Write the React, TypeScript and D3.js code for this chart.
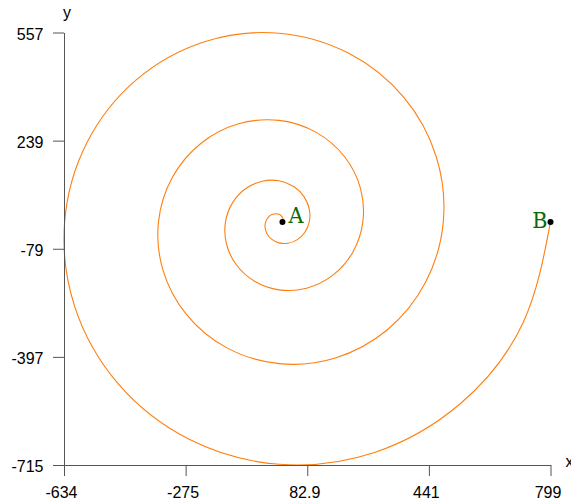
import React, { useEffect, useRef } from "react";
import * as d3 from "d3";

// Spiral points (data units), from A (inner end) to B (outer end)
const spiralX = [
  9.9, 11.5, 10.9, 7.1, 0, -10.0, -21.4, -32.1,
  -39.5, -41.2, -35.3, -21.3, 0, 26.0, 52.8, 75.4,
  88.8, 89.0, 73.7, 43.0, 0, -49.6, -98.1, -136.9,
  -157.9, -155.2, -126.1, -72.3, 0, 80.8, 157.5, 216.7,
  246.7, 239.5, 192.4, 109.1, 0, -119.5, -230.7, -314.7,
  -355.3, -342.1, -272.6, -153.5, 0, 165.8, 318.0, 431.0,
  483.6, 462.9, 366.8, 205.4, 0, -219.6, -419.2, -565.5,
  -631.7, -602.0, -475.0, -264.9, 0, 281.0, 534.3, 718.2,
  799.4,
];
const spiralY = [
  0, 4.8, 10.9, 17.2, 22.2, 24.1, 21.4, 13.3,
  0, -17.1, -35.3, -51.4, -61.7, -62.8, -52.8, -31.2,
  0, 36.9, 73.7, 103.9, 120.9, 119.8, 98.1, 56.7,
  0, -64.3, -126.1, -174.5, -199.9, -195.0, -157.5, -89.8,
  0, 99.2, 192.4, 263.4, 298.6, 288.5, 230.7, 130.4,
  0, -141.7, -272.6, -370.6, -417.0, -400.2, -318.0, -178.5,
  0, 191.7, 366.8, 495.9, 555.2, 530.2, 419.2, 234.2,
  0, -249.3, -475.0, -639.6, -713.1, -678.3, -534.3, -297.5,
  0,
];

const pointNames = ["A", "B"];
const pointX = [9.9, 799.4];
const pointY = [0, 0];

const xDomain = [-633.6, 799.4];
const yDomain = [-715.2, 557.2];
const xTickValues = [-633.6, -275.35, 82.9, 441.15, 799.4];
const xTickLabels = ["-634", "-275", "82.9", "441", "799"];
const yTickValues = [-715.2, -397.1, -79.0, 239.1, 557.2];
const yTickLabels = ["-715", "-397", "-79", "239", "557"];

const W = 571;
const H = 504;

export default function App() {
  const ref = useRef<SVGSVGElement | null>(null);

  useEffect(() => {
    const svg = d3.select(ref.current);
    svg.selectAll("*").remove();

    const x = d3.scaleLinear().domain(xDomain).range([64, 550.5]);
    const y = d3.scaleLinear().domain(yDomain).range([465, 32.5]);

    const axisColor = "#555";
    const font = "'Liberation Sans', Arial, sans-serif";

    // spiral
    const pts: [number, number][] = spiralX.map((v, i) => [v, spiralY[i]]);
    const line = d3
      .line<[number, number]>()
      .x((d) => x(d[0]))
      .y((d) => y(d[1]))
      .curve(d3.curveNatural);
    svg
      .append("path")
      .attr("d", line(pts) as string)
      .attr("fill", "none")
      .attr("stroke", "#ff7f0e")
      .attr("stroke-width", 1.1);

    // x axis
    const gx = svg.append("g").attr("transform", `translate(0,${y(yDomain[0])})`);
    gx.call(
      d3
        .axisBottom(x)
        .tickValues(xTickValues)
        .tickFormat((_d, i) => xTickLabels[i])
        .tickSize(11)
        .tickSizeOuter(0)
    );
    gx.select(".domain").attr("stroke", axisColor);
    gx.selectAll(".tick line").attr("stroke", axisColor);
    gx.selectAll(".tick text")
      .attr("y", 33)
      .attr("dy", null)
      .attr("x", -3)
      .attr("fill", "#000")
      .style("font-size", "16px")
      .style("font-family", font);

    // y axis
    const gy = svg.append("g").attr("transform", `translate(${x(xDomain[0])},0)`);
    gy.call(
      d3
        .axisLeft(y)
        .tickValues(yTickValues)
        .tickFormat((_d, i) => yTickLabels[i])
        .tickSize(11)
        .tickSizeOuter(0)
    );
    gy.select(".domain").attr("stroke", axisColor);
    gy.selectAll(".tick line").attr("stroke", axisColor);
    gy.selectAll(".tick text")
      .attr("x", -20.5)
      .attr("dy", null)
      .attr("y", 6.5)
      .attr("fill", "#000")
      .style("font-size", "16px")
      .style("font-family", font);

    // axis names
    svg
      .append("text")
      .attr("x", 565.5)
      .attr("y", 467)
      .style("font-size", "16px")
      .style("font-family", font)
      .text("x");
    svg
      .append("text")
      .attr("x", 63)
      .attr("y", 17.5)
      .style("font-size", "16px")
      .style("font-family", font)
      .text("y");

    // points
    pointNames.forEach((name, i) => {
      const px = x(pointX[i]);
      const py = y(pointY[i]);
      svg
        .append("circle")
        .attr("cx", px)
        .attr("cy", py)
        .attr("r", 3)
        .attr("fill", "#000");
      const isA = i === 0;
      svg
        .append("text")
        .attr("x", isA ? px + 6 : px - 3)
        .attr("y", isA ? py + 1.5 : py + 6.5)
        .attr("text-anchor", isA ? "start" : "end")
        .style("font-size", "23px")
        .style("font-family", "'DejaVu Serif', serif")
        .style("font-stretch", "condensed")
        .attr("fill", "#0a6a0a")
        .text(name);
    });
  }, []);

  return (
    <svg
      ref={ref}
      width={W}
      height={H}
      style={{ position: "absolute", left: 0, top: 0, background: "#fff" }}
    />
  );
}
